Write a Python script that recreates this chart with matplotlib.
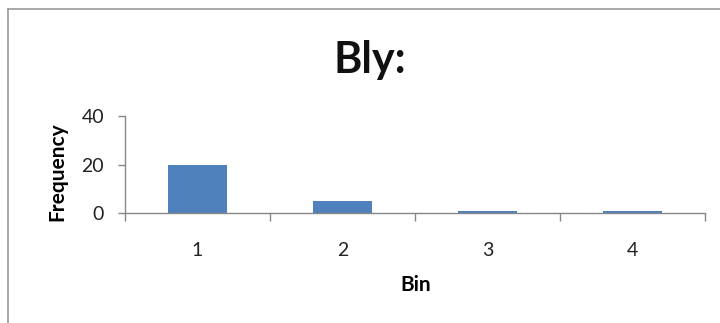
import matplotlib
matplotlib.use("Agg")
import matplotlib.pyplot as plt
from matplotlib.lines import Line2D
from matplotlib.ticker import FixedLocator, NullFormatter

bins = ["1", "2", "3", "4"]
frequency = [20, 5, 1, 1]
y_ticks = [0, 20, 40]

bar_color = "#4F81BD"
axis_color = "#868686"

plt.rcParams["font.family"] = ["Lato", "DejaVu Sans"]

W, H = 720, 323
fig = plt.figure(figsize=(W / 100, H / 100), dpi=100)
fig.patch.set_facecolor("white")

# outer chart frame (top and left edges visible)
fig.add_artist(Line2D([8 / W, 8 / W], [0, 1 - 9 / H], transform=fig.transFigure,
                      color="#9a9a9a", lw=1.2))
fig.add_artist(Line2D([8 / W, 1], [1 - 9 / H, 1 - 9 / H], transform=fig.transFigure,
                      color="#9a9a9a", lw=1.2))

ax = fig.add_axes([125 / W, 110 / H, 580 / W, 97 / H])
positions = list(range(1, len(bins) + 1))
ax.bar(positions, frequency, width=0.41, color=bar_color, zorder=2)

ax.set_xlim(0.5, len(bins) + 0.5)
ax.set_ylim(0, 40)

# category boundaries carry the tick marks, labels sit at centers
ax.xaxis.set_major_locator(FixedLocator([p - 0.5 for p in positions] + [len(bins) + 0.5]))
ax.xaxis.set_major_formatter(NullFormatter())
ax.xaxis.set_minor_locator(FixedLocator(positions))
ax.set_xticklabels(bins, minor=True)
ax.tick_params(axis="x", which="major", direction="out", length=6, width=1, color=axis_color)
ax.tick_params(axis="x", which="minor", length=0, pad=21, labelsize=14, labelcolor="#222222")

ax.set_yticks(y_ticks)
ax.tick_params(axis="y", direction="out", length=5, width=1, color=axis_color,
               labelsize=14, labelcolor="#222222", pad=10)

for side in ["top", "right"]:
    ax.spines[side].set_visible(False)
for side in ["left", "bottom"]:
    ax.spines[side].set_color(axis_color)
    ax.spines[side].set_linewidth(1)

ax.set_xlabel("Bin", fontsize=15, fontweight="bold")
ax.xaxis.set_label_coords(0.502, -0.64)
ax.set_ylabel("Frequency", fontsize=15, fontweight="bold")
ax.yaxis.set_label_coords(-0.10, 0.43)

fig.text(370 / W, 1 - 73 / H, "Bly:", ha="center", va="baseline", fontsize=31,
         fontweight="bold", color="#111111")

fig.savefig("out.png", dpi=100, facecolor="white")
